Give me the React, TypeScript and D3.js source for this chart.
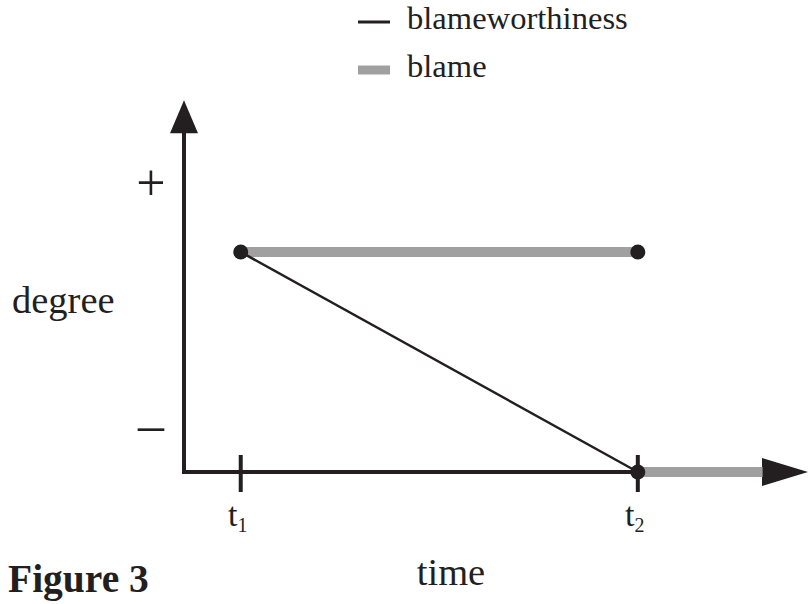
import * as d3 from 'd3';

// time positions (arbitrary units) and degree levels
const timeTicks = [
  { t: 1, label: 't', sub: '1' },
  { t: 8, label: 't', sub: '2' },
];
const degreeMarks = [
  { v: 5.18, label: '+' },
  { v: 0.78, label: '–' },
];
const blameworthiness = [
  { t: 1, v: 4 },
  { t: 8, v: 0 },
];
const blame = [
  { t: 1, v: 4 },
  { t: 8, v: 4 },
];
const blameAfter = [
  { t: 8, v: 0 },
  { t: 10.2, v: 0 },
];
const dots = [
  { t: 1, v: 4 },
  { t: 8, v: 4 },
  { t: 8, v: 0 },
];
const legendItems = [
  { name: 'blameworthiness', kind: 'thin' },
  { name: 'blame', kind: 'thick' },
];

const W = 809;
const H = 604;
const INK = '#231f20';
const GREY = '#a0a0a0';
const FONT = '"Liberation Serif", "Times New Roman", serif';

export default function App() {
  const x = d3.scaleLinear().domain([0, 11]).range([184, 808]);
  const y = d3.scaleLinear().domain([0, 7]).range([472, 87]);
  const line = d3
    .line<{ t: number; v: number }>()
    .x((d) => x(d.t))
    .y((d) => y(d.v));

  const x0 = x(0);
  const y0 = y(0);
  const yTop = y(6.76);
  const xEnd = x(11);

  return (
    <svg
      width={W}
      height={H}
      viewBox={`0 0 ${W} ${H}`}
      style={{ position: 'absolute', left: 0, top: 0, background: '#fff' }}
      fontFamily={FONT}
    >
      {/* legend */}
      {legendItems.map((d, i) => (
        <g key={d.name} transform={`translate(358, ${22 + i * 48})`}>
          <line
            x1={0}
            x2={32}
            y1={0}
            y2={0}
            stroke={d.kind === 'thin' ? INK : GREY}
            strokeWidth={d.kind === 'thin' ? 3 : 9}
          />
          <text x={49} y={7} fontSize={32.6} fill={INK}>
            {d.name}
          </text>
        </g>
      ))}

      {/* axes */}
      <line x1={x0} x2={x0} y1={y0 + 2} y2={yTop + 20} stroke={INK} strokeWidth={4} />
      <path d={`M${x0},${yTop} L${x0 - 14},${yTop + 33} L${x0 + 14},${yTop + 33} Z`} fill={INK} />
      <line x1={x0 - 2} x2={xEnd - 20} y1={y0} y2={y0} stroke={INK} strokeWidth={4} />
      <path d={`M${xEnd},${y0} L${xEnd - 46},${y0 - 14} L${xEnd - 46},${y0 + 14} Z`} fill={INK} />

      {/* time ticks */}
      {timeTicks.map((d) => (
        <g key={d.sub}>
          <line x1={x(d.t)} x2={x(d.t)} y1={y0 - 17} y2={y0 + 20} stroke={INK} strokeWidth={4} />
          <text x={x(d.t) - 3} y={y0 + 54} fontSize={34} fill={INK} textAnchor="middle">
            {d.label}
            <tspan fontSize={20} dy={6}>
              {d.sub}
            </tspan>
          </text>
        </g>
      ))}

      {/* degree marks */}
      {degreeMarks.map((d) => (
        <text key={d.label} x={151} y={y(d.v) + 13} fontSize={52} fill={INK} textAnchor="middle">
          {d.label}
        </text>
      ))}

      {/* series */}
      <path d={line(blame) ?? ''} stroke={GREY} strokeWidth={10} fill="none" />
      <path d={line(blameAfter) ?? ''} stroke={GREY} strokeWidth={10} fill="none" />
      <path d={line(blameworthiness) ?? ''} stroke={INK} strokeWidth={2.5} fill="none" />
      {dots.map((d, i) => (
        <circle key={i} cx={x(d.t)} cy={y(d.v)} r={7.5} fill={INK} />
      ))}

      {/* axis titles */}
      <text x={12} y={313} fontSize={38.5} fill={INK}>
        degree
      </text>
      <text x={451} y={585} fontSize={38.5} fill={INK} textAnchor="middle">
        time
      </text>
      <text x={8} y={592} fontSize={39.5} fontWeight="bold" fill={INK}>
        Figure 3
      </text>
    </svg>
  );
}
